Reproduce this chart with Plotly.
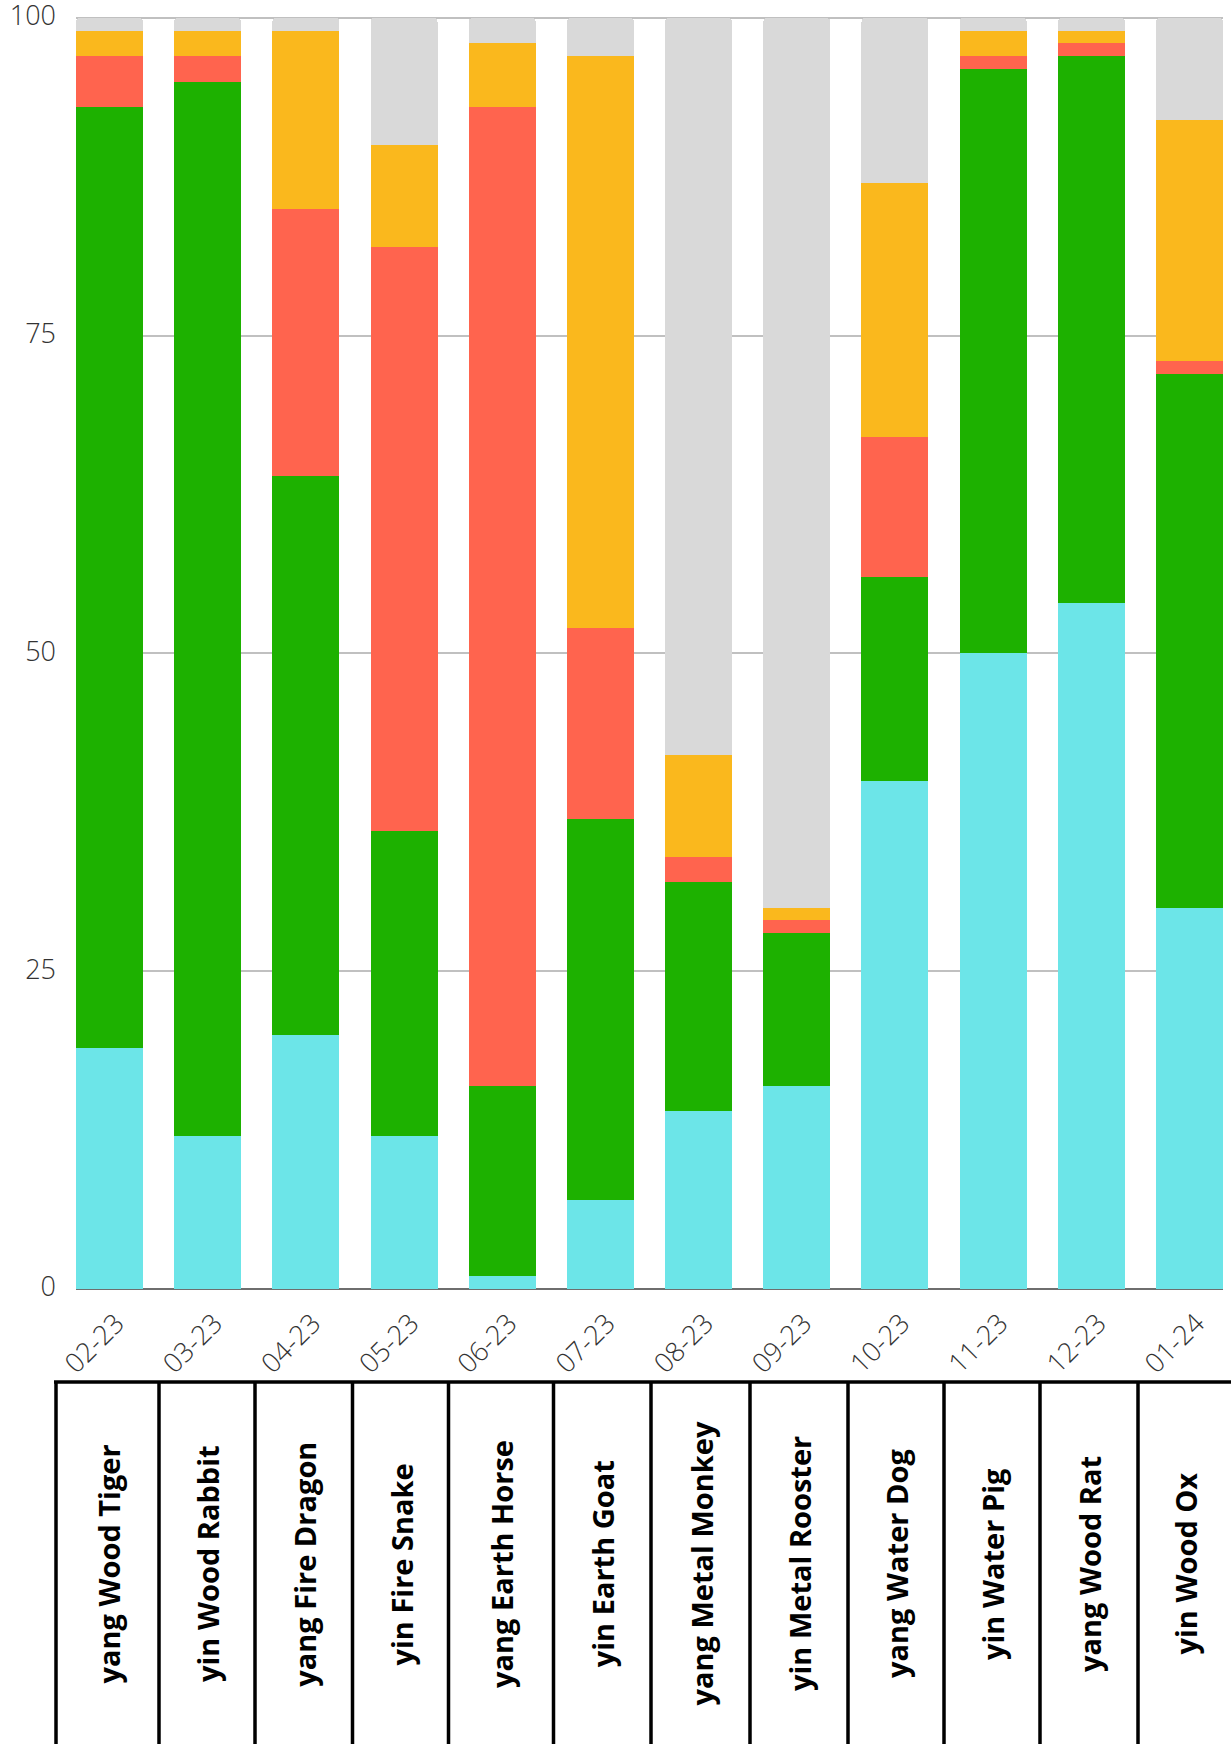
import plotly.graph_objects as go

# Monthly element balance (percent), one stacked column per month
months = ["02-23", "03-23", "04-23", "05-23", "06-23", "07-23",
          "08-23", "09-23", "10-23", "11-23", "12-23", "01-24"]
month_names = ["yang Wood Tiger", "yin Wood Rabbit", "yang Fire Dragon",
               "yin Fire Snake", "yang Earth Horse", "yin Earth Goat",
               "yang Metal Monkey", "yin Metal Rooster", "yang Water Dog",
               "yin Water Pig", "yang Wood Rat", "yin Wood Ox"]

water = [19, 12, 20, 12, 1, 7, 14, 16, 40, 50, 54, 30]
wood = [74, 83, 44, 24, 15, 30, 18, 12, 16, 46, 43, 42]
fire = [4, 2, 21, 46, 77, 15, 2, 1, 11, 1, 1, 1]
earth = [2, 2, 14, 8, 5, 45, 8, 1, 20, 2, 1, 19]
metal = [1, 1, 1, 10, 2, 3, 58, 70, 13, 1, 1, 8]

y_ticks = [0, 25, 50, 75, 100]

# ---- layout constants (pixels) ----
W, H = 1231, 1744
PLOT_LEFT, PLOT_RIGHT = 76, 1223
Y_MAX = 100.3                      # a little headroom so the 100 gridline is drawn
PX_PER_UNIT = (1289 - 18) / 100
PLOT_BOTTOM = 1289
PLOT_TOP = PLOT_BOTTOM - Y_MAX * PX_PER_UNIT
TABLE_TOP = 1382
TABLE_EDGES = [56, 159, 255, 352.5, 448.5, 553.5, 651, 750, 848, 944, 1040, 1138, 1231]
TEXT_Y = 1564


def px_x(x):
    return x / W


def px_y(y):
    return 1 - y / H


series = [
    ("Water", water, "#6CE5E8"),
    ("Wood", wood, "#1DB100"),
    ("Fire", fire, "#FF644E"),
    ("Earth", earth, "#FAB81D"),
    ("Metal", metal, "#D9D9D9"),
]

fig = go.Figure()
for name, vals, color in series:
    fig.add_trace(go.Bar(
        x=months, y=vals, name=name,
        marker=dict(color=color, line=dict(width=0)),
        hovertemplate="%{x}<br>" + name + ": %{y}<extra></extra>",
    ))

gap = 0.318
fig.update_layout(
    width=W, height=H,
    margin=dict(l=0, r=0, t=0, b=0),
    paper_bgcolor="white", plot_bgcolor="white",
    barmode="stack", bargap=gap, barcornerradius=4,
    showlegend=False,
    font=dict(family="Open Sans", color="#333333"),
    xaxis=dict(
        domain=[px_x(PLOT_LEFT), px_x(PLOT_RIGHT)],
        range=[-0.5 + gap / 2, len(months) - 0.5 - gap / 2],
        type="category", tickangle=-45,
        tickfont=dict(family="Open Sans", size=27, weight=300, color="#333333"),
        showgrid=False, showline=False, zeroline=False,
        ticks="", ticklabelstandoff=12, ticklabelshift=7, automargin=False,
        ticklabeloverflow="allow",
    ),
    yaxis=dict(
        domain=[px_y(PLOT_BOTTOM), px_y(PLOT_TOP)],
        range=[0, Y_MAX], tickvals=y_ticks, ticktext=[str(v) for v in y_ticks],
        tickfont=dict(family="Open Sans", size=27, weight=300, color="#333333"),
        showgrid=True, gridcolor="#C0C0C0", gridwidth=2,
        zeroline=True, zerolinecolor="#6E6E6E", zerolinewidth=2,
        showline=False, ticks="", ticklabelstandoff=19, ticklabelshift=-2,
        automargin=False, ticklabeloverflow="allow",
    ),
)

# Table of month names underneath the columns
line_style = dict(color="black", width=3.5)
fig.add_shape(type="line", xref="paper", yref="paper",
              x0=px_x(TABLE_EDGES[0] - 2), x1=1, y0=px_y(TABLE_TOP), y1=px_y(TABLE_TOP),
              line=line_style)
for edge in TABLE_EDGES[:-1]:
    fig.add_shape(type="line", xref="paper", yref="paper",
                  x0=px_x(edge), x1=px_x(edge), y0=px_y(TABLE_TOP), y1=0,
                  line=line_style)

for i, label in enumerate(month_names):
    cx = (TABLE_EDGES[i] + TABLE_EDGES[i + 1]) / 2
    fig.add_annotation(
        x=px_x(cx), y=px_y(TEXT_Y), xref="paper", yref="paper",
        text=label, textangle=-90, showarrow=False,
        xanchor="center", yanchor="middle",
        font=dict(family="Open Sans", size=29, weight="bold", color="black"),
    )

fig.write_html("out.html")
